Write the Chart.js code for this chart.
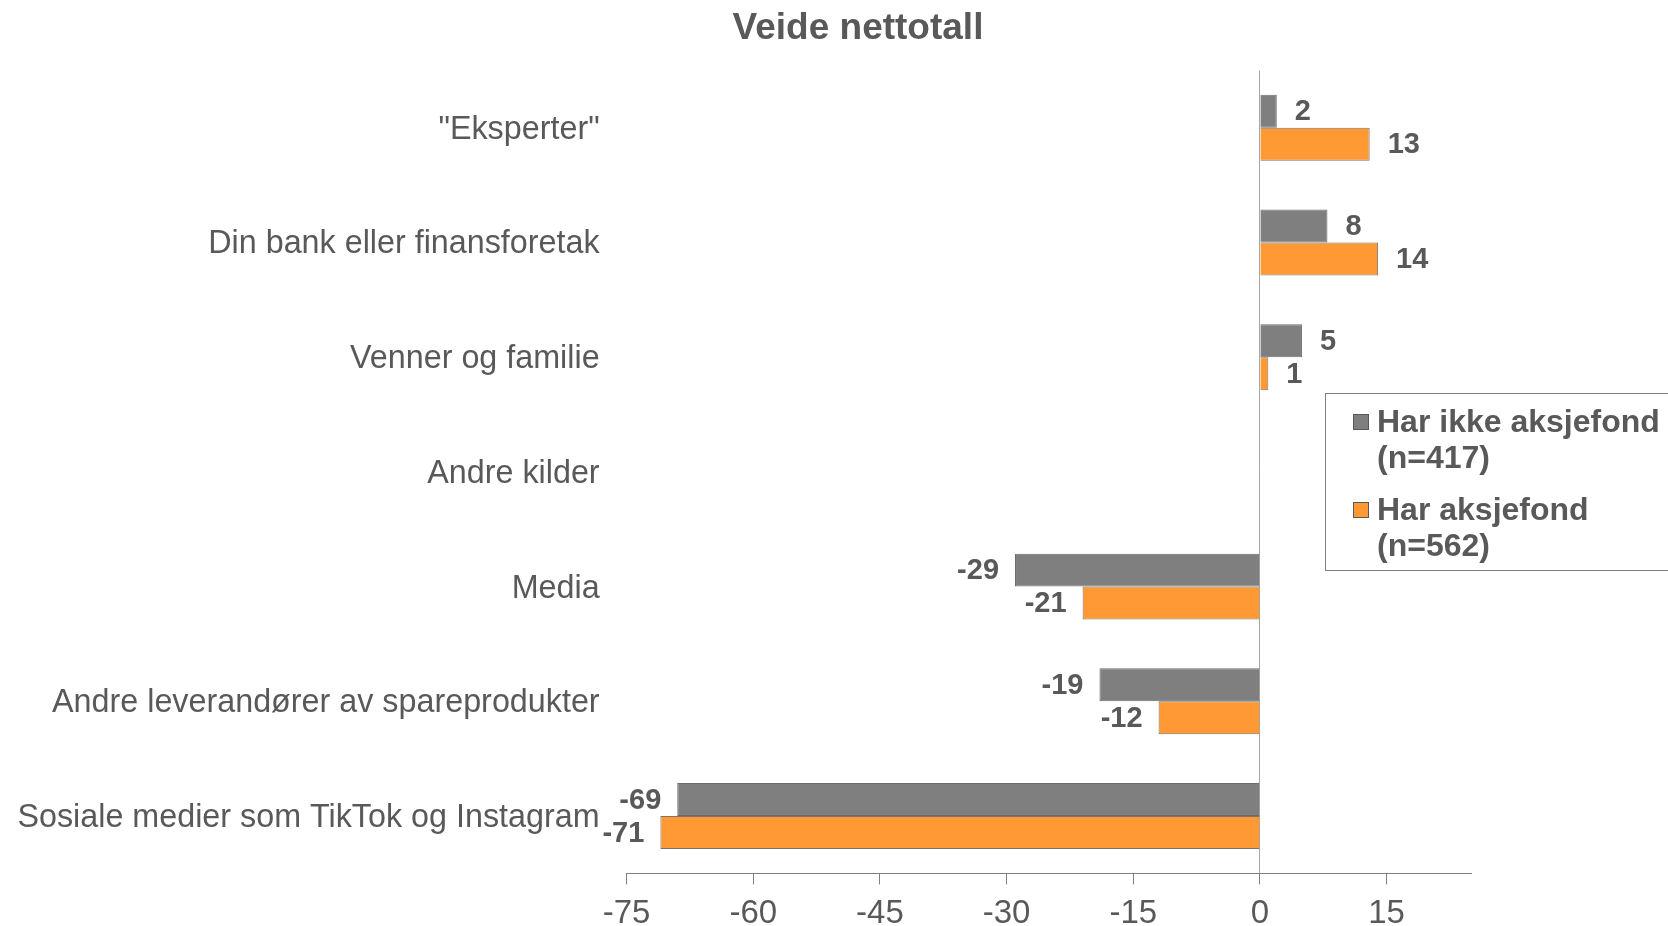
<!DOCTYPE html>
<html>
<head>
<meta charset="utf-8">
<script src="https://cdn.jsdelivr.net/npm/chart.js@4.4.1/dist/chart.umd.min.js"></script>
<style>
    html, body { margin: 0; padding: 0; background: #ffffff; }
    #wrap { width: 1668px; height: 926px; position: relative; }
</style>
</head>
<body>
<div id="wrap"><canvas id="nettoChart"></canvas></div>
<script>
// Kategorier og verdier lest av figuren
const categories = [
    '"Eksperter"',
    "Din bank eller finansforetak",
    "Venner og familie",
    "Andre kilder",
    "Media",
    "Andre leverandører av spareprodukter",
    "Sosiale medier som TikTok og Instagram",
];
const harIkkeAksjefond = [2, 8, 5, null, -29, -19, -69];
const harAksjefond = [13, 14, 1, null, -21, -12, -71];
const seriesLabels = [
    ["Har ikke aksjefond", "(n=417)"],
    ["Har aksjefond", "(n=562)"],
];
const xTickValues = [-75, -60, -45, -30, -15, 0, 15];
const chartTitle = "Veide nettotall";

const textColor = "#595959";
const seriesColors = ["#7f7f7f", "#ff9933"];

// Tittel, sentrert litt til høyre som i originalen
const titlePlugin = {
    id: "titlePlugin",
    afterDraw(chart) {
        const ctx = chart.ctx;
        ctx.save();
        ctx.font = "bold 37px 'Liberation Sans', Arial, sans-serif";
        ctx.fillStyle = textColor;
        ctx.textAlign = "center";
        ctx.textBaseline = "middle";
        ctx.fillText(chartTitle, 858, 29);
        ctx.restore();
    },
};

// Verdietiketter ved enden av hver stolpe
const valueLabels = {
    id: "valueLabels",
    afterDatasetsDraw(chart) {
        const ctx = chart.ctx;
        ctx.save();
        ctx.font = "bold 29px 'Liberation Sans', Arial, sans-serif";
        ctx.fillStyle = textColor;
        ctx.textBaseline = "middle";
        chart.data.datasets.forEach((ds, i) => {
            const meta = chart.getDatasetMeta(i);
            meta.data.forEach((bar, j) => {
                const v = ds.data[j];
                if (v === null || v === undefined) return;
                if (v >= 0) {
                    ctx.textAlign = "left";
                    ctx.fillText(String(v), bar.x + 18, bar.y + 1);
                } else {
                    ctx.textAlign = "right";
                    ctx.fillText(String(v), bar.x - 16, bar.y + 1);
                }
            });
        });
        ctx.restore();
    },
};

// Forklaring med tolinjers tekst i ramme
const boxLegend = {
    id: "boxLegend",
    afterDraw(chart) {
        const ctx = chart.ctx;
        ctx.save();
        ctx.fillStyle = "#ffffff";
        ctx.fillRect(1325.5, 393.5, 360, 177);
        ctx.strokeStyle = "#7f7f7f";
        ctx.lineWidth = 1;
        ctx.strokeRect(1325.5, 393.5, 360, 177);
        ctx.font = "bold 32px 'Liberation Sans', Arial, sans-serif";
        ctx.textAlign = "left";
        ctx.textBaseline = "middle";
        chart.data.datasets.forEach((ds, i) => {
            const top = 421 + i * 88;
            ctx.fillStyle = ds.backgroundColor;
            ctx.fillRect(1353, top - 7, 16, 16);
            ctx.strokeStyle = "#595959";
            ctx.strokeRect(1353.5, top - 6.5, 15, 15);
            ctx.fillStyle = textColor;
            seriesLabels[i].forEach((line, k) => {
                ctx.fillText(line, 1377, top + 2 + k * 36);
            });
        });
        ctx.restore();
    },
};

const ctx = document.getElementById("nettoChart").getContext("2d");
const nettoChart = new Chart(ctx, {
    type: "bar",
    data: {
        labels: categories,
        datasets: [
            {
                label: seriesLabels[0].join(" "),
                data: harIkkeAksjefond,
                backgroundColor: seriesColors[0],
                borderColor: "rgba(70, 70, 70, 0.8)",
                borderWidth: 1,
                categoryPercentage: 0.575,
                barPercentage: 1,
            },
            {
                label: seriesLabels[1].join(" "),
                data: harAksjefond,
                backgroundColor: seriesColors[1],
                borderColor: "rgba(90, 80, 70, 0.8)",
                borderWidth: 1,
                categoryPercentage: 0.575,
                barPercentage: 1,
            },
        ],
    },
    options: {
        indexAxis: "y",
        responsive: true,
        maintainAspectRatio: false,
        animation: false,
        layout: {
            padding: { left: 0, right: 197, top: 70.4, bottom: 0 },
        },
        plugins: {
            legend: { display: false },
            tooltip: { enabled: false },
            title: { display: false },
        },
        scales: {
            x: {
                min: -75,
                max: 25,
                afterFit(scale) {
                    scale.height = 52.6;
                },
                afterBuildTicks(scale) {
                    scale.ticks = xTickValues.map((v) => ({ value: v }));
                },
                border: { display: true, color: "#808080", width: 1 },
                grid: {
                    color: (c) =>
                        c.tick && c.tick.value === 0 ? "#a6a6a6" : "rgba(0,0,0,0)",
                    tickColor: "#808080",
                    tickLength: 11,
                    drawTicks: true,
                },
                ticks: {
                    color: textColor,
                    padding: 10,
                    maxRotation: 0,
                    font: {
                        size: 33,
                        family: "'Liberation Sans Narrow', 'Arial Narrow', 'Liberation Sans', sans-serif",
                    },
                },
            },
            y: {
                afterFit(scale) {
                    scale.width = 626.6;
                },
                border: { display: false },
                grid: { display: false, drawTicks: false },
                ticks: {
                    color: textColor,
                    padding: 27,
                    labelOffset: 2,
                    font: {
                        size: 32.3,
                        family: "'Liberation Sans', Arial, sans-serif",
                    },
                },
            },
        },
    },
    plugins: [valueLabels, boxLegend, titlePlugin],
});
</script>
</body>
</html>
